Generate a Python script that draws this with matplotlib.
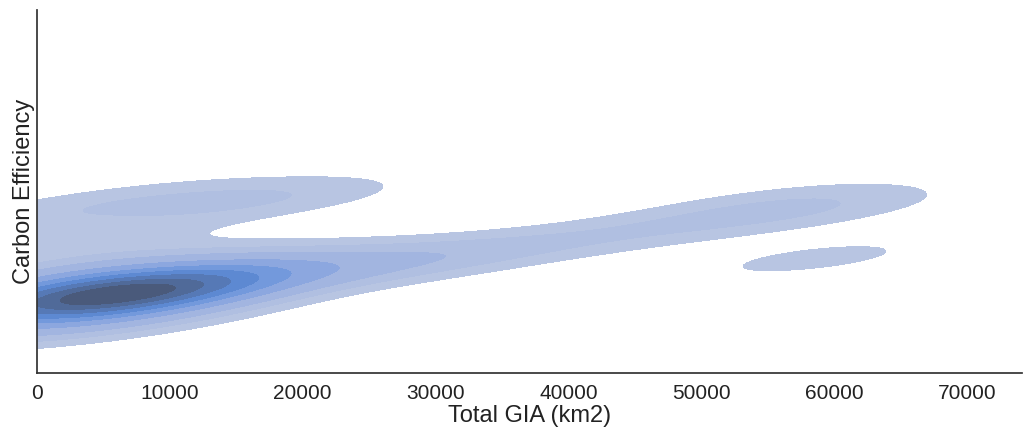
import matplotlib
matplotlib.use("Agg")
import matplotlib.pyplot as plt
import seaborn as sns
import pandas as pd

# Buildings: total GIA (km2) vs carbon efficiency
gia = [500, 1000, 1000, 1500, 1500, 2000, 2000, 2500, 2500, 3000, 3000, 3500, 3500,
       4000, 4000, 4500, 4500, 5000, 5000, 5500, 5500, 6000, 6000, 6500, 6500,
       7000, 7000, 7500, 7500, 8000, 8500, 9000, 9500, 10000, 10500, 11000,
       12000, 13000, 14000, 3000, 6000, 2000, 5000, 9000, 11000, 1000,
       3000, 4500, 6000, 7500, 5000, 8000,
       16000, 18000, 20000, 23000, 26000, 30000,
       1000, 9000, 5000,
       14000, 18000,
       35000, 43000, 51000, 56000, 58500,
       58500]
efficiency = [0.19, 0.21, 0.16, 0.23, 0.19, 0.20, 0.25, 0.17, 0.22, 0.21, 0.19, 0.24, 0.20,
              0.22, 0.18, 0.21, 0.25, 0.20, 0.23, 0.22, 0.19, 0.21, 0.24, 0.22, 0.20,
              0.23, 0.21, 0.25, 0.19, 0.22, 0.24, 0.21, 0.23, 0.25, 0.22, 0.26,
              0.24, 0.27, 0.25, 0.14, 0.15, 0.28, 0.29, 0.18, 0.30, 0.12,
              0.23, 0.19, 0.22, 0.23, 0.21, 0.20,
              0.27, 0.29, 0.26, 0.31, 0.29, 0.32,
              0.44, 0.48, 0.37,
              0.47, 0.48,
              0.34, 0.38, 0.42, 0.47, 0.45,
              0.315]

df = pd.DataFrame({"Total GIA (km2)": gia, "Carbon Efficiency": efficiency})

sns.set_theme(style="white")
plt.rcParams["font.family"] = ["Liberation Sans", "DejaVu Sans"]

fig = plt.figure(figsize=(10.24, 4.28), dpi=100)
ax = fig.add_axes([0.036, 0.128, 0.962, 0.849])

sns.kdeplot(data=df, x="Total GIA (km2)", y="Carbon Efficiency", fill=True, ax=ax)

ax.set_xlim(0, 74100)
ax.set_ylim(0, 1)
ax.set_yticks([])
ax.tick_params(axis="x", labelsize=15, colors="#222222", pad=2)
ax.set_xlabel("Total GIA (km2)", fontsize=17, color="#222222", labelpad=1)
ax.set_ylabel("Carbon Efficiency", fontsize=17, color="#222222", labelpad=1)
for s in ["left", "bottom"]:
    ax.spines[s].set_color("#333333")
sns.despine(ax=ax)

fig.savefig("out.png", dpi=100)
